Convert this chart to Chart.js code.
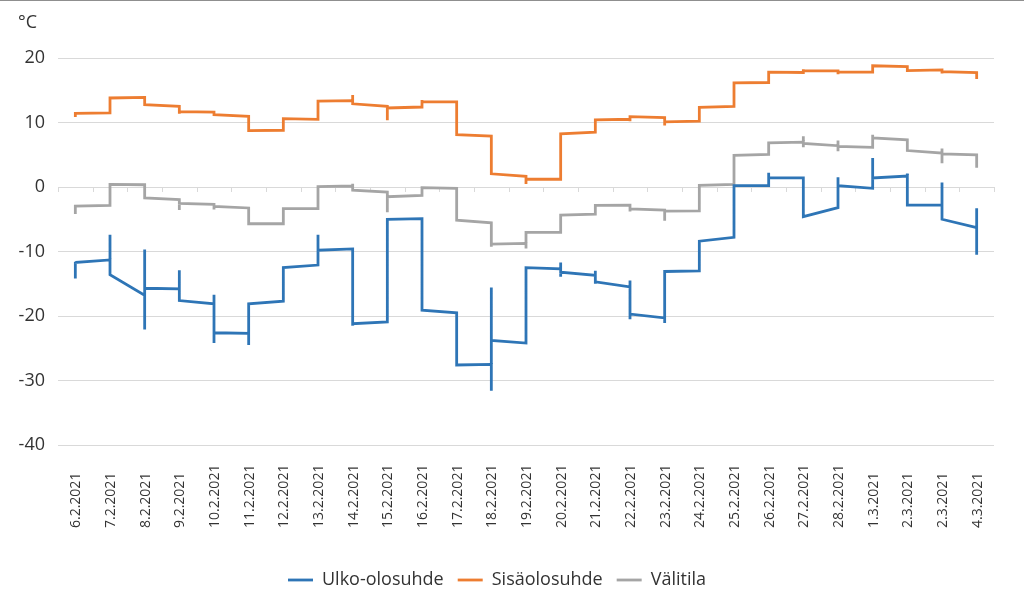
<!DOCTYPE html>
<html>
<head>
<meta charset="utf-8">
<script src="https://cdn.jsdelivr.net/npm/chart.js@4.4.1/dist/chart.umd.min.js"></script>
<style>
  html, body { margin: 0; padding: 0; background: #fff; }
  #wrap { position: relative; width: 1024px; height: 599px; }
  #topline { position: absolute; left: 0; top: 0; width: 1024px; height: 1px; background: #8f8f8f; }
</style>
</head>
<body>
<div id="wrap">
  <canvas id="chart" width="1024" height="599"></canvas>
  <div id="topline"></div>
</div>
<script>
const days = [
    '6.2.2021', '7.2.2021', '8.2.2021', '9.2.2021', '10.2.2021', '11.2.2021',
    '12.2.2021', '13.2.2021', '14.2.2021', '15.2.2021', '16.2.2021', '17.2.2021',
    '18.2.2021', '19.2.2021', '20.2.2021', '21.2.2021', '22.2.2021', '23.2.2021',
    '24.2.2021', '25.2.2021', '26.2.2021', '27.2.2021', '28.2.2021', '1.3.2021',
    '2.3.2021', '2.3.2021', '4.3.2021'
];

// each day: first reading (in), last reading (out), and extra peaks of the day
const ulkoIn  = [-14.2, -11.3, -16.8, -15.8, -18.1, -22.7, -17.7, -12.1, -9.6, -20.9, -4.9, -19.5, -27.5, -24.2, -12.7, -13.7, -15.5, -20.3, -13.0, -7.8, 0.2, 1.4, -3.2, -0.2, 1.7, -2.8, -6.3];
const ulkoOut = [-11.7, -13.6, -15.7, -17.6, -22.6, -18.1, -12.5, -9.8, -21.2, -5.0, -19.1, -27.6, -23.8, -12.5, -13.2, -14.7, -19.7, -13.1, -8.4, 0.2, 1.4, -4.6, 0.2, 1.4, -2.8, -5.0, null];
const ulkoHi  = [-11.6, -7.4, -9.7, -12.9, -16.7, null, null, -7.4, null, null, null, null, -15.6, null, -11.7, -13.0, -14.5, null, null, null, 2.2, null, 1.5, 4.5, 2.1, 0.7, -3.3];
const ulkoLo  = [null, null, -22.1, null, -24.2, -24.5, null, null, -21.5, null, null, null, -31.6, null, -13.9, -15.0, -20.5, -21.1, null, null, null, null, null, null, null, null, -10.5];

const sisaIn  = [10.85, 11.5, 13.9, 12.5, 11.6, 10.95, 8.8, 10.5, 13.4, 12.5, 12.4, 13.2, 7.9, 1.65, 1.2, 8.5, 10.5, 10.75, 10.2, 12.5, 16.2, 17.75, 18.0, 17.8, 18.65, 18.15, 17.75];
const sisaOut = [11.4, 13.8, 12.75, 11.7, 11.2, 8.75, 10.6, 13.3, 12.9, 12.25, 13.25, 8.1, 2.05, 1.2, 8.25, 10.4, 10.9, 10.1, 12.35, 16.15, 17.8, 18.05, 17.8, 18.8, 18.05, 17.9, null];
const sisaHi  = [null, null, null, null, null, null, null, null, 14.25, null, 13.5, null, null, null, null, null, null, null, null, null, null, 18.25, null, null, null, null, null];
const sisaLo  = [null, null, null, 11.35, 11.1, null, null, null, null, 10.35, null, null, null, 0.45, null, null, 10.2, 9.55, null, null, null, null, 17.5, null, 18.0, 17.6, 16.75];

const valiIn  = [-4.2, -2.85, 0.35, -1.95, -2.7, -3.25, -5.7, -3.35, 0.15, -0.8, -1.3, -0.2, -5.55, -8.75, -7.05, -4.2, -2.8, -3.6, -3.7, 0.4, 5.05, 6.95, 6.4, 6.15, 7.3, 5.25, 5.0];
const valiOut = [-2.95, 0.4, -1.7, -2.55, -3.0, -5.7, -3.35, 0.05, -0.5, -1.5, -0.1, -5.15, -8.85, -7.05, -4.35, -2.85, -3.4, -3.75, 0.25, 4.9, 6.85, 6.75, 6.3, 7.6, 5.65, 5.15, null];
const valiHi  = [null, null, null, null, null, null, null, null, 0.5, null, null, null, null, null, null, null, null, null, null, null, null, 7.85, 7.2, 8.1, null, 5.95, null];
const valiLo  = [null, null, null, -3.55, -3.5, null, null, null, null, -3.9, null, null, -9.25, -9.55, null, null, -3.8, -5.25, null, null, null, 6.15, 5.55, null, null, 3.7, 3.0];

const yTicks = [20, 10, 0, -10, -20, -30, -40];

function dayPoints(inV, outV, hiV, loV) {
    const pts = [];
    inV.forEach((v, i) => {
        pts.push({ x: i, y: v });
        if (hiV[i] !== null) pts.push({ x: i, y: hiV[i] });
        if (loV[i] !== null) pts.push({ x: i, y: loV[i] });
        if (outV[i] !== null) pts.push({ x: i, y: outV[i] });
    });
    return pts;
}

function series(label, color, pts) {
    return {
        label: label,
        data: pts,
        borderColor: color,
        backgroundColor: color,
        borderWidth: 2.8,
        pointRadius: 0,
        pointHoverRadius: 0,
        tension: 0,
        fill: false,
        borderJoinStyle: 'miter',
        borderCapStyle: 'butt',
    };
}

const textColor = '#333333';

const decor = {
    id: 'decor',
    beforeDatasetsDraw(chart) {
        const { ctx, scales: { x, y } } = chart;
        const y0 = y.getPixelForValue(0);
        ctx.save();
        ctx.strokeStyle = '#d9d9d9';
        ctx.lineWidth = 1;
        ctx.beginPath();
        for (let k = 0; k <= days.length; k++) {
            const px = Math.round(x.getPixelForValue(k - 0.5)) + 0.5;
            ctx.moveTo(px, y0);
            ctx.lineTo(px, y0 + 5);
        }
        ctx.stroke();
        ctx.restore();
    },
    afterDraw(chart) {
        const { ctx, chartArea, scales: { x } } = chart;
        ctx.save();
        ctx.fillStyle = textColor;
        ctx.font = '18px "Open Sans", sans-serif';
        ctx.textAlign = 'left';
        ctx.textBaseline = 'middle';
        ctx.fillText('°C', 18, 23);

        ctx.font = '14px "Open Sans", sans-serif';
        days.forEach((d, i) => {
            ctx.save();
            ctx.translate(x.getPixelForValue(i) + 1, chartArea.bottom + 83);
            ctx.rotate(-Math.PI / 2);
            ctx.textAlign = 'left';
            ctx.textBaseline = 'middle';
            ctx.fillText(d, 0, 0);
            ctx.restore();
        });
        ctx.restore();
    }
};

Chart.defaults.font.family = '"Open Sans", sans-serif';
Chart.defaults.color = textColor;

new Chart(document.getElementById('chart'), {
    type: 'line',
    data: {
        datasets: [
            series('Ulko-olosuhde', '#2e75b6', dayPoints(ulkoIn, ulkoOut, ulkoHi, ulkoLo)),
            series('Sisäolosuhde', '#ed7d31', dayPoints(sisaIn, sisaOut, sisaHi, sisaLo)),
            series('Välitila', '#a5a5a5', dayPoints(valiIn, valiOut, valiHi, valiLo)),
        ],
    },
    options: {
        responsive: false,
        animation: false,
        layout: {
            padding: { top: 58, right: 30, left: 0, bottom: 0 },
        },
        scales: {
            x: {
                type: 'linear',
                min: -0.5,
                max: days.length - 0.5,
                grid: { display: false },
                border: { display: false },
                ticks: { display: false },
                afterFit: (scale) => { scale.height = 112; },
            },
            y: {
                min: -40,
                max: 20,
                afterBuildTicks: (scale) => {
                    scale.ticks = yTicks.map((v) => ({ value: v }));
                },
                afterFit: (scale) => { scale.width = 58; },
                grid: {
                    color: '#d9d9d9',
                    lineWidth: 1,
                    drawTicks: false,
                },
                border: { display: false },
                ticks: {
                    padding: 13,
                    font: { size: 18 },
                    color: textColor,
                },
            },
        },
        plugins: {
            legend: {
                position: 'bottom',
                labels: {
                    usePointStyle: true,
                    pointStyle: 'line',
                    pointStyleWidth: 25,
                    padding: 14,
                    font: { size: 18 },
                    color: textColor,
                },
            },
            tooltip: { enabled: false },
        },
    },
    plugins: [decor],
});
</script>
</body>
</html>
